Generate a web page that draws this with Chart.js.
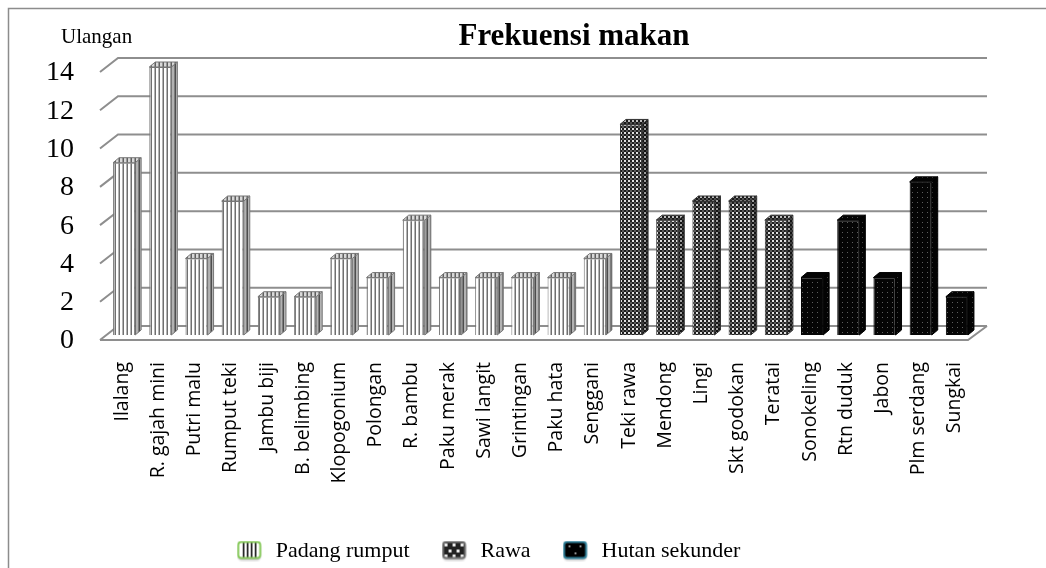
<!DOCTYPE html>
<html>
<head>
<meta charset="utf-8">
<script src="https://cdn.jsdelivr.net/npm/chart.js@4.4.0/dist/chart.umd.min.js"></script>
<style>
  html, body { margin: 0; padding: 0; background: #fff; }
  #wrap { width: 1046px; height: 568px; }
</style>
</head>
<body>
<div id="wrap"><canvas id="makanChart" width="1046" height="568"></canvas></div>
<script>
// data
const padangCategories = ['Ilalang', 'R. gajah mini', 'Putri malu', 'Rumput teki', 'Jambu biji', 'B. belimbing',
    'Klopogonium', 'Polongan', 'R. bambu', 'Paku merak', 'Sawi langit', 'Grintingan', 'Paku hata', 'Senggani'];
const padangValues = [9, 14, 4, 7, 2, 2, 4, 3, 6, 3, 3, 3, 3, 4];

const rawaCategories = ['Teki rawa', 'Mendong', 'Lingi', 'Skt godokan', 'Teratai'];
const rawaValues = [11, 6, 7, 7, 6];

const hutanCategories = ['Sonokeling', 'Rtn duduk', 'Jabon', 'Plm serdang', 'Sungkai'];
const hutanValues = [3, 6, 3, 8, 2];

const seriesNames = ['Padang rumput', 'Rawa', 'Hutan sekunder'];
const yTicks = [0, 2, 4, 6, 8, 10, 12, 14];

const categories = padangCategories.concat(rawaCategories, hutanCategories);

// pad each series out to the full category list
function spread(values, offset) {
    const out = categories.map(() => null);
    values.forEach((v, i) => { out[offset + i] = v; });
    return out;
}

// fill patterns
function tile(w, h, paint) {
    const c = document.createElement('canvas');
    c.width = w;
    c.height = h;
    paint(c.getContext('2d'));
    return c;
}
const cctx = document.getElementById('makanChart').getContext('2d');

const stripes = cctx.createPattern(tile(4, 4, g => {
    g.fillStyle = '#fff'; g.fillRect(0, 0, 4, 4);
    g.fillStyle = '#b4b4b4'; g.fillRect(2, 0, 1, 4);
    g.fillStyle = '#707070'; g.fillRect(3, 0, 1, 4);
}), 'repeat');

const checks = cctx.createPattern(tile(4, 4, g => {
    g.fillStyle = '#1e1e1e'; g.fillRect(0, 0, 4, 4);
    g.fillStyle = '#e0e0e0'; g.fillRect(0, 0, 2, 2);
    g.fillStyle = '#5a5a5a'; g.fillRect(2, 2, 2, 2);
}), 'repeat');

const dots = cctx.createPattern(tile(5, 5, g => {
    g.fillStyle = '#050505'; g.fillRect(0, 0, 5, 5);
    g.fillStyle = '#5e5e5e'; g.fillRect(2, 2, 1, 1);
}), 'repeat');

// legend swatches
function swatch(border, paint) {
    return tile(26, 21, g => {
        g.shadowColor = 'rgba(0,0,0,0.35)';
        g.shadowOffsetY = 2;
        g.shadowBlur = 2;
        g.beginPath();
        g.roundRect(1.5, 1.5, 22, 16, 3);
        g.fillStyle = '#fff';
        g.fill();
        g.shadowColor = 'transparent';
        g.save();
        g.clip();
        paint(g);
        g.restore();
        g.lineWidth = 2;
        g.strokeStyle = border;
        g.stroke();
    });
}
const legendIcons = [
    swatch('#86c95a', g => {
        g.fillStyle = '#111';
        [6, 10, 14, 18].forEach(x => g.fillRect(x, 2, 1.6, 15));
    }),
    swatch('#707070', g => {
        g.fillStyle = '#222'; g.fillRect(0, 0, 26, 21);
        g.fillStyle = '#eee';
        [[3, 3], [11, 3], [19, 3], [7, 9], [15, 9], [3, 14], [11, 14], [19, 14]].forEach(([x, y]) => g.fillRect(x, y, 3, 3));
    }),
    swatch('#2f7f98', g => {
        g.fillStyle = '#000'; g.fillRect(0, 0, 26, 21);
        g.fillStyle = '#ddd';
        [[6, 5], [17, 5], [12, 12]].forEach(([x, y]) => g.fillRect(x, y, 1.6, 1.6));
    })
];

// pseudo 3D: back wall, floor, bar sides and tops, plus the free text
const DX = 6, DY = -5;
const depth3d = {
    id: 'depth3d',
    beforeDraw(chart) {
        const ctx = chart.ctx;
        ctx.save();
        ctx.strokeStyle = '#8c8c8c';
        ctx.lineWidth = 1.5;
        ctx.beginPath();
        ctx.moveTo(8.5, 568);
        ctx.lineTo(8.5, 8.5);
        ctx.lineTo(1046, 8.5);
        ctx.stroke();
        ctx.restore();
    },
    beforeDatasetsDraw(chart) {
        const {ctx, chartArea: a, scales: {y}} = chart;
        const y0 = y.getPixelForValue(0);
        ctx.save();
        ctx.strokeStyle = '#8e8e8e';
        ctx.lineWidth = 2;
        yTicks.forEach(v => {
            const py = y.getPixelForValue(v);
            ctx.beginPath();
            ctx.moveTo(a.left - 6, py + 5);
            ctx.lineTo(a.left + 12, py - 9);
            ctx.lineTo(a.right + 12, py - 9);
            ctx.stroke();
        });
        ctx.beginPath();
        ctx.moveTo(a.left - 6, y0 + 5);
        ctx.lineTo(a.right - 7, y0 + 5);
        ctx.lineTo(a.right + 12, y0 - 9);
        ctx.stroke();
        ctx.restore();
    },
    afterDatasetsDraw(chart) {
        const ctx = chart.ctx;
        ctx.save();
        chart.data.datasets.forEach((ds, di) => {
            const meta = chart.getDatasetMeta(di);
            meta.data.forEach((bar, i) => {
                if (ds.data[i] == null) return;
                const {x, y, base, width} = bar.getProps(['x', 'y', 'base', 'width'], true);
                const l = x - width / 2, r = x + width / 2;
                ctx.lineWidth = 1;
                ctx.strokeStyle = ds.borderColor;
                // side face
                ctx.beginPath();
                ctx.moveTo(r, y);
                ctx.lineTo(r + DX, y + DY);
                ctx.lineTo(r + DX, base + DY);
                ctx.lineTo(r, base);
                ctx.closePath();
                ctx.fillStyle = ds.backgroundColor;
                ctx.fill();
                ctx.fillStyle = 'rgba(0,0,0,0.3)';
                ctx.fill();
                ctx.stroke();
                // top face
                ctx.beginPath();
                ctx.moveTo(l, y);
                ctx.lineTo(l + DX, y + DY);
                ctx.lineTo(r + DX, y + DY);
                ctx.lineTo(r, y);
                ctx.closePath();
                ctx.fillStyle = ds.backgroundColor;
                ctx.fill();
                ctx.fillStyle = 'rgba(0,0,0,0.15)';
                ctx.fill();
                ctx.stroke();
            });
        });
        ctx.restore();
    },
    afterDraw(chart) {
        const ctx = chart.ctx;
        ctx.save();
        ctx.fillStyle = '#000';
        ctx.textBaseline = 'alphabetic';
        ctx.font = 'bold 31px "Liberation Serif"';
        ctx.textAlign = 'center';
        ctx.fillText('Frekuensi makan', 574, 45);
        ctx.font = '21px "Liberation Serif"';
        ctx.textAlign = 'left';
        ctx.fillText('Ulangan', 61, 43);
        ctx.restore();
    }
};

new Chart(document.getElementById('makanChart'), {
    type: 'bar',
    data: {
        labels: categories,
        datasets: [{
                label: seriesNames[0],
                data: spread(padangValues, 0),
                backgroundColor: stripes,
                borderColor: '#777',
                borderWidth: 1
            },
            {
                label: seriesNames[1],
                data: spread(rawaValues, padangValues.length),
                backgroundColor: checks,
                borderColor: '#333',
                borderWidth: 1
            },
            {
                label: seriesNames[2],
                data: spread(hutanValues, padangValues.length + rawaValues.length),
                backgroundColor: dots,
                borderColor: '#000',
                borderWidth: 1
            }
        ]
    },
    options: {
        responsive: false,
        animation: false,
        devicePixelRatio: 1,
        grouped: false,
        barPercentage: 0.61,
        categoryPercentage: 1,
        layout: {
            padding: { top: 67, right: 71, left: 0, bottom: -4 }
        },
        plugins: {
            title: { display: false },
            tooltip: { enabled: false },
            legend: {
                position: 'bottom',
                labels: {
                    usePointStyle: true,
                    pointStyleWidth: 30,
                    padding: 30,
                    color: '#000',
                    font: { family: 'Liberation Serif', size: 22 },
                    generateLabels: chart => chart.data.datasets.map((ds, i) => ({
                        text: ds.label,
                        pointStyle: legendIcons[i],
                        fontColor: '#000',
                        lineWidth: 0,
                        datasetIndex: i
                    }))
                }
            }
        },
        scales: {
            x: {
                grid: { display: false, drawTicks: false },
                border: { display: false },
                ticks: {
                    autoSkip: false,
                    maxRotation: 90,
                    minRotation: 90,
                    padding: 27,
                    labelOffset: -2,
                    color: '#000',
                    font: { family: 'Open Sans', size: 19.5 }
                },
                afterFit: s => { s.height = 175; }
            },
            y: {
                min: 0,
                max: 14,
                grid: { display: false, drawTicks: false },
                border: { display: false },
                afterBuildTicks: s => { s.ticks = yTicks.map(v => ({ value: v })); },
                ticks: {
                    padding: 32,
                    labelOffset: 6,
                    color: '#000',
                    font: { family: 'Liberation Serif', size: 28 }
                },
                afterFit: s => { s.width = 106; }
            }
        }
    },
    plugins: [depth3d]
});
</script>
</body>
</html>
